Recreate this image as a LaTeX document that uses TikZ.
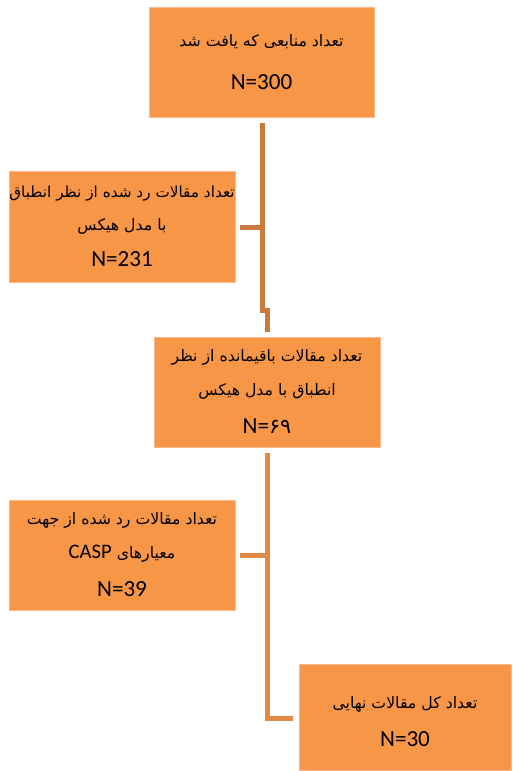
\documentclass[tikz,border=0pt]{standalone}
\usepackage{fontspec}
\setmainfont{Carlito}
\newfontfamily\arabicfont[Script=Arabic]{DejaVu Sans}
\TeXXeTstate=1
\definecolor{boxfill}{HTML}{F79646}
\definecolor{boxedge}{HTML}{FAB98A}
\definecolor{linkA}{HTML}{C97A3C}
\definecolor{linkB}{HTML}{E38A44}
\newcommand\ar[1]{{\arabicfont\fontsize{11.8}{25}\selectfont\beginR #1\endR}}
\newcommand\arn[1]{{\arabicfont\fontsize{11.45}{25}\selectfont\beginR #1\endR}}
\newcommand\nn[1]{{\fontsize{17.3}{25}\selectfont #1}}
\begin{document}
\begin{tikzpicture}[x=0.75pt,y=-0.75pt,
  box/.style={draw=boxedge, fill=boxfill, line width=0.6pt, inner sep=0pt, text=black, align=center,
    font=\fontsize{11.8}{25}\selectfont},
  linka/.style={draw=linkA, line width=3.75pt},
  linkb/.style={draw=linkB, line width=3.75pt}]
\useasboundingbox (0,0) rectangle (513,771);
\node[box, minimum width=168.75pt, minimum height=82.5pt] (b1) at (261.5,62)
  {\ar{تعداد منابعی که یافت شد}\\[7pt] \nn{N=300}};
\node[box, minimum width=169.5pt, minimum height=83.25pt] (b2) at (122,226.5)
  {\arn{تعداد مقالات رد شده از نظر انطباق}\\ \ar{با مدل هیکس}\\[2pt] \nn{N=231}};
\node[box, minimum width=169.5pt, minimum height=82.5pt] (b3) at (267,392)
  {\ar{تعداد مقالات باقیمانده از نظر}\\ \ar{انطباق با مدل هیکس}\\[4pt] {\nn{N=}\arabicfont\fontsize{15.5}{25}\selectfont ۶۹}};
\node[box, minimum width=169.5pt, minimum height=82.5pt] (b4) at (122,555)
  {\ar{تعداد مقالات رد شده از جهت}\\ \ar{معیارهای \beginL{\fontsize{15.5}{25}\selectfont\rmfamily CASP}\endL}\\[4pt] \nn{N=39}};
\node[box, minimum width=159pt, minimum height=79.5pt] (b5) at (405,717)
  {\rule{0pt}{16pt}\ar{تعداد کل مقالات نهایی}\\[4pt] \nn{N=30}};
% connector 1
\coordinate (a1) at (262,123);
\coordinate (a2) at (262,310);
\coordinate (a3) at (267,310);
\coordinate (a4) at (267,332);
\coordinate (a5) at (240,227);
\coordinate (a6) at (262,227);
\draw[linka] (a1) -- (a2) -- (a3) -- (a4);
\draw[linka] (a5) -- (a6);
% connector 2
\coordinate (c1) at (267,453);
\coordinate (c2) at (267,718);
\coordinate (c3) at (293,718);
\coordinate (c4) at (240,555);
\coordinate (c5) at (267,555);
\draw[linkb] (c1) -- (c2) -- (c3);
\draw[linkb] (c4) -- (c5);
\end{tikzpicture}
\end{document}
